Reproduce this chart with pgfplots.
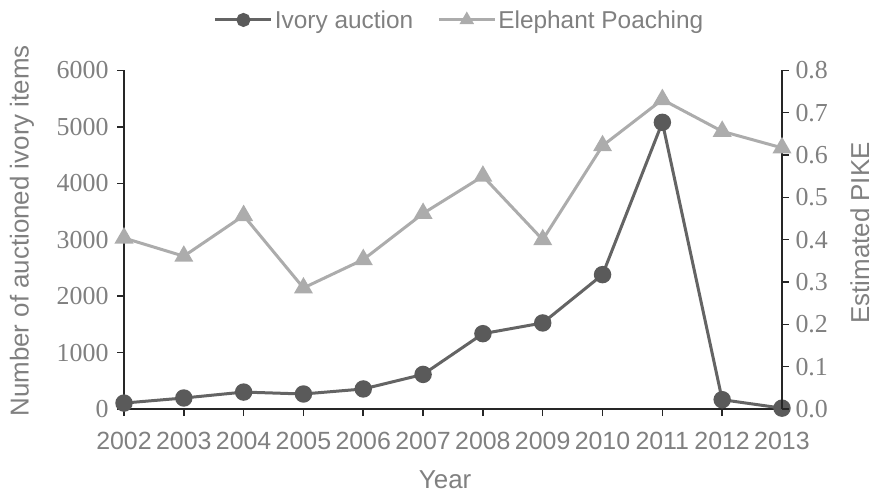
\documentclass[border=0pt]{standalone}
\usepackage{fontspec}
\setmainfont{Liberation Sans}
\newfontfamily\numfont{Liberation Serif}
\usepackage{pgfplots}
\pgfplotsset{compat=1.18}
\definecolor{ivoryc}{RGB}{100,100,100}
\definecolor{pikec}{RGB}{172,172,172}
\definecolor{txt}{RGB}{128,128,128}

\pgfplotstableread{
year ivory
2002 105
2003 195
2004 300
2005 266
2006 355
2007 613
2008 1335
2009 1525
2010 2381
2011 5080
2012 165
2013 15
}\ivorydata

\pgfplotstableread{
year pike
2002 0.404
2003 0.361
2004 0.457
2005 0.286
2006 0.353
2007 0.462
2008 0.550
2009 0.400
2010 0.622
2011 0.731
2012 0.656
2013 0.617
}\pikedata

\begin{document}
\begin{tikzpicture}
\useasboundingbox (0,0) rectangle (878bp,493bp);
\pgfplotsset{
  common/.style={
    at={(124bp,84bp)}, anchor=south west,
    scale only axis, width=658bp, height=338.6bp,
    xmin=2002, xmax=2013,
    tick align=outside, major tick length=7bp,
    axis line style={line width=2.4bp, black!85},
    tick style={line width=1.5bp, black!85},
    tick label style={text=txt},
    label style={text=txt, font=\fontsize{26}{30}\selectfont},
  },
  ivorystyle/.style={ivoryc, line width=3bp, mark=*, mark size=7.2bp,
    mark options={fill=ivoryc!90!black, draw=ivoryc!90!black, solid}},
  pikestyle/.style={pikec, line width=3bp, mark=triangle*, mark size=8bp,
    mark options={fill=pikec, draw=pikec, solid}},
}
\begin{axis}[common,
  axis x line*=bottom, axis y line*=left,
  ymin=0, ymax=6000, ytick={0,1000,...,6000},
  xtick={2002,...,2013},
  xticklabel style={font=\fontsize{25}{30}\selectfont, yshift=-13bp,
    /pgf/number format/assume math mode=true, /pgf/number format/1000 sep={}},
  yticklabel style={font=\numfont\fontsize{26}{30}\selectfont, xshift=-5bp,
    /pgf/number format/assume math mode=true, /pgf/number format/1000 sep={}},
  xlabel={Year}, ylabel={Number of auctioned ivory items},
  xlabel style={at={(axis description cs:0.488,-0.21)}, anchor=center},
  ylabel style={at={(axis description cs:-0.155,0.526)}, anchor=center},
]
\addplot[ivorystyle] table[x=year,y=ivory]{\ivorydata};
\end{axis}
\begin{axis}[common,
  axis x line=none, axis y line*=right,
  ymin=0, ymax=0.8, ytick={0,0.1,0.2,0.3,0.4,0.5,0.6,0.7,0.8},
  yticklabel style={font=\numfont\fontsize{26}{30}\selectfont, xshift=3bp,
    /pgf/number format/assume math mode=true,
    /pgf/number format/fixed, /pgf/number format/fixed zerofill,
    /pgf/number format/precision=1},
  ylabel={Estimated PIKE},
  ylabel style={at={(axis description cs:1.1185,0.52)}, anchor=center},
  legend style={at={(axis description cs:0.51,1.149)}, anchor=center,
    draw=none, fill=none, legend columns=2,
    font=\fontsize{24.5}{29}\selectfont, text=txt,
    /tikz/every even column/.append style={column sep=22bp}},
  legend cell align=left,
  legend image code/.code={\draw[mark repeat=2,mark phase=2, mark size=5.5bp]
    plot coordinates {(0bp,0bp) (28bp,0bp) (56bp,0bp)};},
]
\addlegendimage{ivorystyle}
\addlegendentry{Ivory auction}
\addplot[pikestyle] table[x=year,y=pike]{\pikedata};
\addlegendentry{Elephant Poaching}
\end{axis}
\end{tikzpicture}
\end{document}
